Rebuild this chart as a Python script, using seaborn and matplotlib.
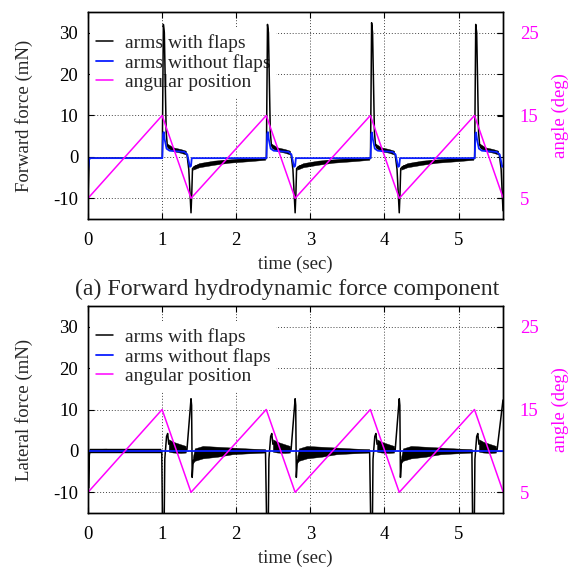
import numpy as np
import matplotlib
matplotlib.use('Agg')
import matplotlib.pyplot as plt
import seaborn as sns

nan = np.nan

# ---------------- data ----------------
angle_t = [0.0, 1.0, 1.39, 2.405, 2.795, 3.81, 4.20, 5.215, 5.6]
angle_v = [5, 15, 5, 15, 5, 15, 5, 15, 5.1]

# Forward force, arms with flaps
fwd_flaps_t = [0.0, 0.015, 0.03, 0.5, 0.99,
               1.002, 1.017, 1.03, 1.055, 1.07, 1.10, 1.20, 1.30, 1.335, 1.36, 1.39, 1.40, 1.41, 1.45, 1.6, 1.8, 2.1, 2.39,
               2.407, 2.422, 2.435, 2.46, 2.475, 2.505, 2.605, 2.705, 2.74, 2.765, 2.795, 2.805, 2.815, 2.855, 3.005, 3.205, 3.505, 3.795,
               3.812, 3.827, 3.84, 3.865, 3.88, 3.91, 4.01, 4.11, 4.145, 4.17, 4.20, 4.21, 4.22, 4.26, 4.41, 4.61, 4.91, 5.20,
               5.217, 5.232, 5.245, 5.27, 5.285, 5.315, 5.415, 5.515, 5.55, 5.575, 5.60]
fwd_flaps_v = [-10, -0.6, -0.3, -0.3, -0.3,
               -0.3, 32.0, 30.0, 6.0, 2.8, 2.0, 1.6, 1.2, 0.6, -3, -13.5, -9, -2.8, -2.2, -1.6, -1.1, -0.7, -0.4,
               -0.4, 32.0, 30.0, 6.0, 2.8, 2.0, 1.6, 1.2, 0.6, -3, -13.5, -9, -2.8, -2.2, -1.6, -1.1, -0.7, -0.4,
               -0.4, 32.4, 30.0, 6.0, 2.8, 2.0, 1.6, 1.2, 0.6, -3, -13.5, -9, -2.8, -2.2, -1.6, -1.1, -0.7, -0.4,
               -0.4, 32.0, 30.0, 6.0, 2.8, 2.0, 1.6, 1.2, 0.6, -3, -13.0]
# noise envelope of the forward "with flaps" trace (segments split by nan)
fwd_band_t = [1.07, 1.15, 1.25, 1.32, nan,
              1.415, 1.50, 1.70, 1.90, 2.20, 2.39, nan,
              2.475, 2.555, 2.655, 2.725, nan,
              2.82, 2.905, 3.105, 3.305, 3.605, 3.795, nan,
              3.88, 3.96, 4.06, 4.13, nan,
              4.225, 4.31, 4.51, 4.71, 5.01, 5.20, nan,
              5.285, 5.365, 5.465, 5.535]
fwd_band_lo = [2.3, 1.4, 1.0, 0.6, nan,
               -3.1, -2.5, -1.9, -1.4, -1.0, -0.7, nan,
               2.3, 1.4, 1.0, 0.6, nan,
               -3.1, -2.5, -1.9, -1.4, -1.0, -0.7, nan,
               2.3, 1.4, 1.0, 0.6, nan,
               -3.1, -2.5, -1.9, -1.4, -1.0, -0.7, nan,
               2.3, 1.4, 1.0, 0.6]
fwd_band_hi = [3.2, 2.3, 1.9, 1.5, nan,
               -2.3, -1.5, -0.9, -0.6, -0.3, -0.1, nan,
               3.2, 2.3, 1.9, 1.5, nan,
               -2.3, -1.5, -0.9, -0.6, -0.3, -0.1, nan,
               3.2, 2.3, 1.9, 1.5, nan,
               -2.3, -1.5, -0.9, -0.6, -0.3, -0.1, nan,
               3.2, 2.3, 1.9, 1.5]

# Forward force, arms without flaps
fwd_noflaps_t = [0.0, 0.015, 0.03, 0.99,
                 1.003, 1.013, 1.022, 1.035, 1.06, 1.10, 1.30, 1.34, 1.375, 1.39, 1.40, 2.395,
                 2.408, 2.418, 2.427, 2.44, 2.465, 2.505, 2.705, 2.745, 2.78, 2.795, 2.805, 3.80,
                 3.813, 3.823, 3.832, 3.845, 3.87, 3.91, 4.11, 4.15, 4.185, 4.20, 4.21, 5.205,
                 5.218, 5.228, 5.237, 5.25, 5.275, 5.315, 5.515, 5.555, 5.59, 5.60]
fwd_noflaps_v = [-3.5, -0.6, -0.3, -0.3,
                 -0.3, 5.5, 6.0, 4.2, 2.0, 1.5, 1.2, 0.6, -2.4, -2.2, -0.3, -0.3,
                 -0.3, 5.5, 6.0, 4.2, 2.0, 1.5, 1.2, 0.6, -2.4, -2.2, -0.3, -0.3,
                 -0.3, 5.5, 5.9, 4.2, 2.0, 1.5, 1.2, 0.6, -2.4, -2.2, -0.3, -0.3,
                 -0.3, 5.5, 5.9, 4.2, 2.0, 1.5, 1.2, 0.6, -2.4, -2.2]

# Lateral force, arms with flaps
lat_flaps_t = [0.0, 0.007, 0.018, 0.03, 0.25, 0.5, 0.75, 0.995,
               1.005, 1.028, 1.036, 1.06, 1.075, 1.09, 1.12, 1.20, 1.30, 1.335, 1.39, 1.398, 1.406, 1.42, 1.50, 1.70, 2.00, 2.395,
               2.41, 2.433, 2.441, 2.465, 2.48, 2.495, 2.525, 2.605, 2.705, 2.74, 2.795, 2.803, 2.811, 2.825, 2.905, 3.105, 3.405, 3.80,
               3.815, 3.838, 3.846, 3.87, 3.885, 3.90, 3.93, 4.01, 4.11, 4.145, 4.20, 4.208, 4.216, 4.23, 4.31, 4.51, 4.81, 5.18,
               5.19, 5.213, 5.221, 5.245, 5.26, 5.275, 5.305, 5.385, 5.485, 5.52, 5.60]
lat_flaps_v = [27, -9, -1.0, 0.2, 0.3, -0.2, 0.2, 0.1,
               -17, -17, -2.0, 3.5, 4.2, 1.6, 2.0, 1.0, 0.8, 0.2, 12.6, 11.0, -6.4, -2.3, -1.2, -0.3, 0.0, 0.1,
               -17, -17, -2.0, 3.5, 4.2, 1.6, 2.0, 1.0, 0.8, 0.2, 12.6, 11.0, -6.4, -2.3, -1.2, -0.3, 0.0, 0.1,
               -17, -17, -2.0, 3.5, 4.2, 1.6, 2.0, 1.0, 0.8, 0.2, 12.6, 11.0, -6.4, -2.3, -1.2, -0.3, 0.0, 0.1,
               -17, -17, -2.0, 3.5, 4.2, 1.6, 2.0, 1.0, 0.8, 0.2, 12.3]
lat_band_t = [0.03, 0.99, nan,
              1.09, 1.15, 1.25, 1.32, nan,
              1.415, 1.44, 1.55, 1.75, 1.95, 2.15, 2.39, nan,
              2.495, 2.555, 2.655, 2.725, nan,
              2.82, 2.845, 2.955, 3.155, 3.355, 3.555, 3.795, nan,
              3.90, 3.96, 4.06, 4.13, nan,
              4.225, 4.25, 4.36, 4.56, 4.76, 4.96, 5.18, nan,
              5.275, 5.335, 5.435, 5.505]
lat_band_lo = [-0.4, -0.4, nan,
               -0.2, -0.4, -0.5, -0.4, nan,
               -3.0, -2.4, -1.8, -1.4, -0.8, -0.6, -0.4, nan,
               -0.2, -0.4, -0.5, -0.4, nan,
               -3.0, -2.4, -1.8, -1.4, -0.8, -0.6, -0.4, nan,
               -0.2, -0.4, -0.5, -0.4, nan,
               -3.0, -2.4, -1.8, -1.4, -0.8, -0.6, -0.4, nan,
               -0.2, -0.4, -0.5, -0.4]
lat_band_hi = [0.4, 0.4, nan,
               2.8, 2.2, 1.6, 1.2, nan,
               -1.5, 0.6, 1.2, 1.0, 0.8, 0.6, 0.4, nan,
               2.8, 2.2, 1.6, 1.2, nan,
               -1.5, 0.6, 1.2, 1.0, 0.8, 0.6, 0.4, nan,
               2.8, 2.2, 1.6, 1.2, nan,
               -1.5, 0.6, 1.2, 1.0, 0.8, 0.6, 0.4, nan,
               2.8, 2.2, 1.6, 1.2]

# Lateral force, arms without flaps
lat_noflaps_t = [0.0, 5.6]
lat_noflaps_v = [0.0, 0.0]

x_ticks = [0, 1, 2, 3, 4, 5]
force_ticks = [-10, 0, 10, 20, 30]
angle_ticks = [5, 15, 25]
labels = ['arms with flaps', 'arms without flaps', 'angular position']

# ---------------- style ----------------
sns.set_theme(style='ticks')
plt.rcParams['font.family'] = ['Liberation Serif', 'DejaVu Serif']
plt.rcParams['axes.unicode_minus'] = False
MAG = '#ff00ff'
BLUE = '#0a1eff'
FS = 13.5

W, H = 573, 571
fig = plt.figure(figsize=(W / 100, H / 100), dpi=100)


def rect(l, t, r, b):
    return [l / W, 1 - b / H, (r - l) / W, (b - t) / H]


def panel(ax, ft, fv, bt, blo, bhi, nt, nv, ylabel):
    ax.set_zorder(1)
    sns.lineplot(x=ft, y=fv, ax=ax, color='black', lw=1.1, estimator=None,
                 sort=False, zorder=3, legend=False)
    bt = np.array(bt, float); blo = np.array(blo, float); bhi = np.array(bhi, float)
    idx = np.where(np.isnan(bt))[0]
    starts = np.r_[0, idx + 1]
    ends = np.r_[idx, len(bt)]
    for s, e in zip(starts, ends):
        ax.fill_between(bt[s:e], blo[s:e], bhi[s:e], color='black', lw=0.3, zorder=3)
    sns.lineplot(x=nt, y=nv, ax=ax, color=BLUE, lw=1.3, estimator=None,
                 sort=False, zorder=4, legend=False)
    ax.set_xlim(0, 5.6)
    ax.set_ylim(-15, 35)
    ax.set_xticks(x_ticks)
    ax.set_yticks(force_ticks)
    ax.grid(True, color='#444444', linestyle=(0, (1, 2)), lw=0.7)
    ax.set_axisbelow(True)
    ax.set_ylabel(ylabel, fontsize=FS)
    ax.yaxis.set_label_coords(-0.133, 0.5)
    ax.set_xlabel('time (sec)', fontsize=FS, labelpad=5)
    for sp in ax.spines.values():
        sp.set_color('black'); sp.set_linewidth(1.0)

    axr = ax.twinx()
    sns.lineplot(x=angle_t, y=angle_v, ax=axr, color=MAG, lw=1.1, estimator=None,
                 sort=False, legend=False)
    axr.set_ylim(2.5, 27.5)
    axr.set_yticks(angle_ticks)
    axr.tick_params(axis='y', direction='in', length=4, width=0.8, colors='black',
                    labelcolor=MAG, labelsize=FS, pad=12)
    axr.set_ylabel('angle (deg)', color=MAG, fontsize=FS)
    axr.yaxis.set_label_coords(1.118, 0.5)
    axr.grid(False)
    for sp in axr.spines.values():
        sp.set_color('black'); sp.set_linewidth(1.0)

    ax.tick_params(axis='both', direction='in', length=4, width=0.8,
                   top=True, right=True, labelsize=FS, colors='black')
    ax.tick_params(axis='x', pad=9.5)
    ax.tick_params(axis='y', pad=7)

    handles = [plt.Line2D([], [], color='black', lw=1.1),
               plt.Line2D([], [], color=BLUE, lw=1.3),
               plt.Line2D([], [], color=MAG, lw=1.1)]
    leg = ax.legend(handles, labels, loc='upper left', bbox_to_anchor=(0.006, 0.922),
                    borderaxespad=0, borderpad=0.3, frameon=True, facecolor='white',
                    edgecolor='none', framealpha=1, fancybox=False, fontsize=14,
                    handlelength=0.85, handletextpad=0.6, labelspacing=0.1)
    leg.set_zorder(2.5)
    return axr


ax1 = fig.add_axes(rect(88, 12, 503, 219))
ax2 = fig.add_axes(rect(88, 306, 503, 513))
panel(ax1, fwd_flaps_t, fwd_flaps_v, fwd_band_t, fwd_band_lo, fwd_band_hi,
      fwd_noflaps_t, fwd_noflaps_v, 'Forward force (mN)')
panel(ax2, lat_flaps_t, lat_flaps_v, lat_band_t, lat_band_lo, lat_band_hi,
      lat_noflaps_t, lat_noflaps_v, 'Lateral force (mN)')

fig.text(287 / W, 1 - 289 / H, '(a) Forward hydrodynamic force component',
         ha='center', va='center', fontsize=17.2)

fig.savefig('out.png', dpi=100)
